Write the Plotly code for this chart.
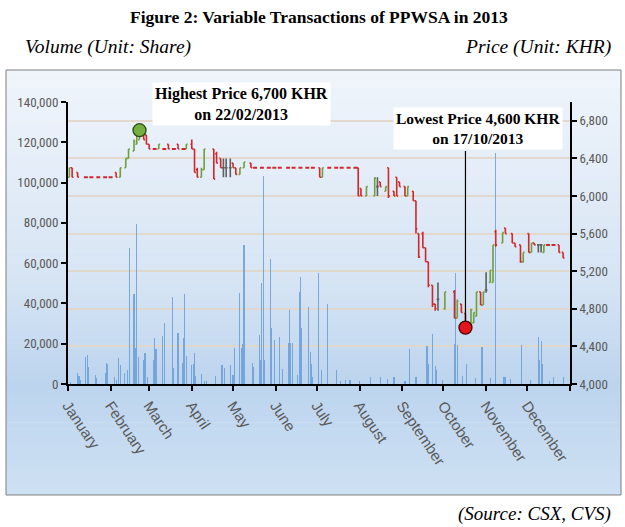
import plotly.graph_objects as go

# ---------------- data ----------------
price_dates = [
    "2013-01-02", "2013-01-04", "2013-01-08", "2013-01-14", "2013-01-18", "2013-01-23", "2013-01-28",
    "2013-02-01", "2013-02-05", "2013-02-08", "2013-02-12", "2013-02-14", "2013-02-18", "2013-02-20",
    "2013-02-22", "2013-02-25", "2013-02-27", "2013-03-01", "2013-03-05", "2013-03-08", "2013-03-12",
    "2013-03-15", "2013-03-19", "2013-03-22", "2013-03-26", "2013-03-28", "2013-04-01", "2013-04-03",
    "2013-04-05", "2013-04-08", "2013-04-10", "2013-04-17", "2013-04-19", "2013-04-22", "2013-04-24",
    "2013-04-26", "2013-04-29", "2013-05-01", "2013-05-03", "2013-05-06", "2013-05-09", "2013-05-14",
    "2013-05-17", "2013-05-22", "2013-05-27", "2013-05-31", "2013-06-04", "2013-06-10", "2013-06-14",
    "2013-06-19", "2013-06-24", "2013-06-28", "2013-07-03", "2013-07-05", "2013-07-10", "2013-07-15",
    "2013-07-19", "2013-07-24", "2013-07-29", "2013-07-31", "2013-08-02", "2013-08-06", "2013-08-12",
    "2013-08-14", "2013-08-16", "2013-08-20", "2013-08-22", "2013-08-26", "2013-08-28", "2013-08-30",
    "2013-09-03", "2013-09-05", "2013-09-09", "2013-09-11", "2013-09-13", "2013-09-16", "2013-09-18",
    "2013-09-20", "2013-09-23", "2013-09-25", "2013-09-27", "2013-10-02", "2013-10-09", "2013-10-11",
    "2013-10-14", "2013-10-17", "2013-10-21", "2013-10-23", "2013-10-25", "2013-10-28", "2013-10-30",
    "2013-11-01", "2013-11-04", "2013-11-06", "2013-11-08", "2013-11-13", "2013-11-15", "2013-11-20",
    "2013-11-22", "2013-11-26", "2013-11-28", "2013-12-02", "2013-12-04", "2013-12-06", "2013-12-09",
    "2013-12-11", "2013-12-13", "2013-12-16", "2013-12-20", "2013-12-24", "2013-12-27",
]
price_open = [
    6200, 6300, 6250, 6200, 6200, 6200, 6200,
    6200, 6250, 6200, 6300, 6400, 6480, 6550,
    6600, 6700, 6650, 6550, 6500, 6500, 6500,
    6550, 6500, 6550, 6500, 6500, 6550, 6500,
    6280, 6200, 6280, 6500, 6450, 6400, 6300,
    6300, 6300, 6350, 6300, 6230, 6300, 6350,
    6300, 6300, 6300, 6300, 6300, 6300, 6300,
    6300, 6300, 6300, 6300, 6200, 6300, 6300,
    6300, 6300, 6300, 6300, 6080, 6000, 6000,
    6100, 6150, 6050, 6300, 6050, 6200, 6150,
    6100, 6000, 6050, 5950, 5600, 5600, 5450,
    5300, 5050, 4850, 4900, 4800, 4980, 4700,
    4850, 4750, 4600, 4650, 4720, 4980, 4840,
    5000, 5080, 5080, 5620, 5500, 5660, 5600,
    5500, 5480, 5300, 5600, 5400, 5500, 5480,
    5480, 5400, 5480, 5480, 5480, 5400,
]
price_high = [
    6300, 6300, 6250, 6200, 6200, 6200, 6200,
    6200, 6250, 6300, 6400, 6500, 6600, 6650,
    6700, 6700, 6650, 6550, 6500, 6550, 6500,
    6550, 6500, 6550, 6500, 6550, 6600, 6500,
    6300, 6300, 6500, 6500, 6470, 6400, 6400,
    6400, 6400, 6350, 6300, 6300, 6360, 6350,
    6300, 6300, 6300, 6300, 6300, 6300, 6300,
    6300, 6300, 6300, 6300, 6300, 6300, 6300,
    6300, 6300, 6300, 6300, 6080, 6100, 6200,
    6200, 6150, 6100, 6300, 6050, 6200, 6150,
    6100, 6100, 6050, 5950, 5600, 5620, 5450,
    5300, 5050, 4850, 5080, 4980, 5000, 4900,
    4850, 4750, 4800, 4760, 4980, 4980, 4980,
    5190, 5210, 5480, 5640, 5610, 5660, 5600,
    5500, 5480, 5400, 5600, 5500, 5500, 5480,
    5480, 5480, 5480, 5480, 5480, 5400,
]
price_low = [
    6200, 6200, 6200, 6200, 6200, 6200, 6200,
    6200, 6200, 6200, 6300, 6400, 6480, 6550,
    6600, 6600, 6550, 6500, 6500, 6500, 6500,
    6500, 6500, 6500, 6500, 6500, 6500, 6250,
    6200, 6200, 6280, 6180, 6350, 6300, 6200,
    6200, 6200, 6300, 6230, 6230, 6300, 6300,
    6300, 6300, 6300, 6300, 6300, 6300, 6300,
    6300, 6300, 6300, 6200, 6200, 6300, 6300,
    6300, 6300, 6300, 6000, 6000, 6000, 6000,
    6000, 6100, 6050, 5980, 6000, 6000, 6100,
    6000, 6000, 5950, 5600, 5340, 5450, 5300,
    5030, 4820, 4780, 4780, 4790, 4700, 4700,
    4760, 4600, 4580, 4650, 4720, 4840, 4840,
    4970, 5080, 5080, 5460, 5500, 5600, 5500,
    5460, 5290, 5290, 5400, 5400, 5480, 5400,
    5400, 5400, 5480, 5480, 5400, 5340,
]
price_close = [
    6300, 6200, 6200, 6200, 6200, 6200, 6200,
    6200, 6200, 6300, 6400, 6500, 6580, 6650,
    6700, 6600, 6550, 6500, 6500, 6550, 6500,
    6500, 6500, 6500, 6500, 6550, 6500, 6250,
    6200, 6280, 6500, 6180, 6350, 6300, 6300,
    6300, 6300, 6300, 6230, 6300, 6360, 6300,
    6300, 6300, 6300, 6300, 6300, 6300, 6300,
    6300, 6300, 6300, 6200, 6300, 6300, 6300,
    6300, 6300, 6300, 6000, 6000, 6100, 6190,
    6100, 6100, 6100, 6000, 6000, 6000, 6100,
    6000, 6100, 5950, 5650, 5350, 5450, 5300,
    5050, 4850, 4800, 4900, 4980, 4700, 4880,
    4760, 4600, 4790, 4760, 4980, 4840, 4980,
    5000, 5210, 5480, 5480, 5610, 5600, 5500,
    5460, 5300, 5400, 5400, 5500, 5480, 5480,
    5480, 5480, 5480, 5480, 5400, 5340,
]

vol_dates = [
    "2013-01-03", "2013-01-08", "2013-01-09", "2013-01-10", "2013-01-14", "2013-01-15", "2013-01-16",
    "2013-01-21", "2013-01-22", "2013-01-28", "2013-01-29", "2013-01-30", "2013-02-04", "2013-02-05",
    "2013-02-07", "2013-02-08", "2013-02-11", "2013-02-13", "2013-02-15", "2013-02-18", "2013-02-19",
    "2013-02-20", "2013-02-21", "2013-02-25", "2013-02-26", "2013-02-28", "2013-03-04", "2013-03-05",
    "2013-03-06", "2013-03-11", "2013-03-12", "2013-03-18", "2013-03-19", "2013-03-22", "2013-03-25",
    "2013-03-26", "2013-03-27", "2013-03-28", "2013-04-01", "2013-04-02", "2013-04-03", "2013-04-04",
    "2013-04-08", "2013-04-10", "2013-04-12", "2013-04-18", "2013-04-23", "2013-04-25", "2013-04-29",
    "2013-05-01", "2013-05-02", "2013-05-06", "2013-05-07", "2013-05-08", "2013-05-09", "2013-05-15",
    "2013-05-16", "2013-05-20", "2013-05-21", "2013-05-22", "2013-05-23", "2013-05-24", "2013-05-28",
    "2013-05-29", "2013-05-31", "2013-06-04", "2013-06-06", "2013-06-10", "2013-06-11", "2013-06-12",
    "2013-06-13", "2013-06-17", "2013-06-18", "2013-06-19", "2013-06-20", "2013-06-25", "2013-06-26",
    "2013-06-27", "2013-06-28", "2013-07-02", "2013-07-04", "2013-07-09", "2013-07-15", "2013-07-18",
    "2013-07-22", "2013-07-25", "2013-08-01", "2013-08-09", "2013-08-16", "2013-08-21", "2013-08-26",
    "2013-09-03", "2013-09-06", "2013-09-11", "2013-09-19", "2013-09-20", "2013-09-23", "2013-09-25",
    "2013-09-26", "2013-09-30", "2013-10-09", "2013-10-10", "2013-10-11", "2013-10-15", "2013-10-18",
    "2013-10-24", "2013-10-29", "2013-11-04", "2013-11-08", "2013-11-14", "2013-11-15", "2013-11-19",
    "2013-11-27", "2013-12-03", "2013-12-09", "2013-12-10", "2013-12-11", "2013-12-12", "2013-12-17",
    "2013-12-20", "2013-12-27",
]
vol_values = [
    1000, 5400, 4000, 2000, 13400, 14500, 8500,
    4500, 3000, 5400, 10500, 10000, 3500, 2000,
    12800, 9600, 5400, 7000, 67500, 44600, 18000,
    79400, 13400, 12000, 15400, 3500, 12000, 22800,
    17300, 23800, 30300, 43300, 8000, 25500, 10500,
    22800, 44600, 14000, 9500, 10000, 15400, 4000,
    5000, 1700, 1500, 4000, 9600, 8000, 9600,
    4500, 18000, 45300, 18000, 20000, 69000, 10500,
    8500, 24300, 12000, 50000, 103300, 12000, 62000,
    27800, 21800, 23300, 7500, 20300, 36800, 20500,
    20500, 4500, 45700, 53100, 27800, 38300, 15700,
    10000, 3500, 55100, 7000, 39700, 7000, 1500,
    2000, 2000, 1500, 3400, 3400, 2500, 3400,
    1500, 17300, 3400, 19000, 10000, 24800, 9000,
    7000, 2000, 19800, 55100, 19500, 4000, 10000,
    3000, 18500, 3000, 114700, 3400, 3400, 2500,
    19500, 2000, 23300, 12000, 21400, 10000, 1500,
    3400, 3500,
]

month_ticks = [
    "2013-01-01", "2013-02-01", "2013-03-01", "2013-04-01", "2013-05-01", "2013-06-01",
    "2013-07-01", "2013-08-01", "2013-09-01", "2013-10-01", "2013-11-01", "2013-12-01", "2014-01-01",
]
month_labels = [
    "January", "February", "March", "April", "May", "June", "July",
    "August", "September", "October", "November", "December", "",
]
volume_ticks = [0, 20000, 40000, 60000, 80000, 100000, 120000, 140000]
price_ticks = [4000, 4400, 4800, 5200, 5600, 6000, 6400, 6800]

extreme_dates = ["2013-02-22", "2013-10-17"]
extreme_prices = [6700, 4600]

# ---------------- styles ----------------
RED = "#d0282a"
GREEN = "#6f9f3c"
GREY = "#5f5f5f"
BAR = "rgba(98,152,214,0.8)"
NARROW = "Liberation Sans Narrow, Roboto Condensed, Arial Narrow, Liberation Sans"
TICKFONT = dict(family=NARROW, size=13, color="#595959")
MONTHFONT = dict(family="Liberation Sans, Arial, sans-serif", size=15, color="#595959")
SERIF = "Liberation Serif, Times New Roman, serif"

W, H = 625, 527
L, R, T, B = 68, 55, 102, 143
PW, PH = W - L - R, H - T - B


def px_x(px):
    return (px - L) / PW


def px_y(py):
    return (H - B - py) / PH


rows = list(zip(price_dates, price_open, price_high, price_low, price_close))
flat = [r for r in rows if r[1] == r[2] == r[3] == r[4]]
neutral = [r for r in rows if r[1] == r[4] and r[2] != r[3]]
moving = [r for r in rows if r[1] != r[4]]


def cols(rs):
    return [list(c) for c in zip(*rs)]


fig = go.Figure()

fig.add_trace(go.Bar(x=vol_dates, y=vol_values, width=0.8 * 86400000,
                     marker=dict(color=BAR, line=dict(width=0)), yaxis="y", xaxis="x",
                     showlegend=False))

d, o, h, l, c = cols(moving)
fig.add_trace(go.Ohlc(x=d, open=o, high=h, low=l, close=c, xaxis="x", yaxis="y2",
                      tickwidth=0.5,
                      increasing=dict(line=dict(color=GREEN, width=1.6)),
                      decreasing=dict(line=dict(color=RED, width=1.6)), showlegend=False))
d, o, h, l, c = cols(neutral)
fig.add_trace(go.Ohlc(x=d, open=o, high=h, low=l, close=c, xaxis="x", yaxis="y2",
                      tickwidth=0.5,
                      increasing=dict(line=dict(color=GREY, width=1.6)),
                      decreasing=dict(line=dict(color=GREY, width=1.6)), showlegend=False))
d, o, h, l, c = cols(flat)
fig.add_trace(go.Ohlc(x=d, open=o, high=h, low=l, close=c, xaxis="x2", yaxis="y2",
                      tickwidth=0.36,
                      increasing=dict(line=dict(color=RED, width=2)),
                      decreasing=dict(line=dict(color=RED, width=2)), showlegend=False))

fig.add_trace(go.Scatter(x=extreme_dates, y=extreme_prices, mode="markers", xaxis="x", yaxis="y2",
                         marker=dict(size=13, color=["#74b040", "#e3161b"],
                                     line=dict(width=1.3, color=["#2c4a18", "#4a0000"])),
                         showlegend=False, cliponaxis=False))

# ---------------- background (gradient box) ----------------
def lerp(c1, c2, t):
    return tuple(round(a + (b - a) * t) for a, b in zip(c1, c2))


stops = [(0.0, (240, 245, 251)), (0.5, (214, 228, 244)), (0.74, (188, 212, 238)), (1.0, (206, 225, 243))]
box_x0, box_x1 = px_x(6), px_x(621)
box_top, box_bot = 70, 495
N = 70
shapes = []
for i in range(N):
    t = (i + 0.5) / N
    for k in range(len(stops) - 1):
        if stops[k][0] <= t <= stops[k + 1][0]:
            tt = (t - stops[k][0]) / (stops[k + 1][0] - stops[k][0])
            col = lerp(stops[k][1], stops[k + 1][1], tt)
            break
    ya = box_top + (box_bot - box_top) * i / N
    yb = box_top + (box_bot - box_top) * (i + 1) / N + 0.6
    shapes.append(dict(type="rect", xref="paper", yref="paper", x0=box_x0, x1=box_x1,
                       y0=px_y(min(yb, box_bot)), y1=px_y(ya), line=dict(width=0),
                       fillcolor="rgb(%d,%d,%d)" % col, layer="below"))
shapes.append(dict(type="rect", xref="paper", yref="paper", x0=box_x0, x1=box_x1,
                   y0=px_y(box_bot), y1=px_y(box_top), line=dict(width=1, color="#7f7f7f"),
                   fillcolor="rgba(0,0,0,0)", layer="below"))

annotations = [
    dict(text="<b>Figure 2: Variable Transactions of PPWSA in 2013</b>", xref="paper", yref="paper",
         x=0.5, y=px_y(17), xanchor="center", yanchor="middle", showarrow=False,
         font=dict(family=SERIF, size=17.5, color="black")),
    dict(text="<i>Volume (Unit: Share)</i>", xref="paper", yref="paper", x=px_x(23), y=px_y(47),
         xanchor="left", yanchor="middle", showarrow=False, font=dict(family=SERIF, size=19.5, color="black")),
    dict(text="<i>Price (Unit: KHR)</i>", xref="paper", yref="paper", x=px_x(613), y=px_y(47),
         xanchor="right", yanchor="middle", showarrow=False, font=dict(family=SERIF, size=19.5, color="black")),
    dict(text="<i>(Source: CSX, CVS)</i>", xref="paper", yref="paper", x=px_x(613), y=px_y(514),
         xanchor="right", yanchor="middle", showarrow=False, font=dict(family=SERIF, size=19, color="black")),
    dict(text="<b>Highest Price 6,700 KHR<br>on 22/02/2013</b>", xref="paper", yref="paper",
         x=px_x(241), y=px_y(104), xanchor="center", yanchor="middle", showarrow=False,
         bgcolor="white", borderpad=2, font=dict(family=SERIF, size=16, color="black")),
    dict(text="<b>Lowest Price 4,600 KHR<br>on 17/10/2013</b>", xref="paper", yref="paper",
         x=px_x(478), y=px_y(128), xanchor="center", yanchor="middle", showarrow=False,
         bgcolor="white", borderpad=2, font=dict(family=SERIF, size=15.5, color="black")),
    dict(text="", x=extreme_dates[1], y=extreme_prices[1], xref="x", yref="y2", showarrow=True,
         arrowhead=0, arrowwidth=1.2, arrowcolor="black", ax=0, ay=-178, standoff=6),
]

axis_common = dict(showline=True, linecolor="black", linewidth=2, ticks="outside", ticklen=5,
                   tickwidth=2, tickcolor="black", tickfont=TICKFONT, zeroline=False, automargin=False)

fig.update_layout(
    width=W, height=H, autosize=False,
    margin=dict(l=L, r=R, t=T, b=B, pad=0),
    paper_bgcolor="white", plot_bgcolor="rgba(0,0,0,0)",
    showlegend=False, bargap=0,
    xaxis=dict(type="date", range=["2013-01-01", "2014-01-01"], tickvals=month_ticks,
               ticktext=month_labels, tickangle=56, showgrid=False, rangeslider=dict(visible=False),
               **{**axis_common, "tickfont": MONTHFONT}),
    xaxis2=dict(type="date", range=["2013-01-01", "2014-01-01"], overlaying="x", visible=False,
                rangeslider=dict(visible=False)),
    yaxis=dict(range=[0, 140000], tickvals=volume_ticks, tickformat=",", showgrid=False, **axis_common),
    yaxis2=dict(range=[4000, 7000], tickvals=price_ticks, tickformat=",", overlaying="y", side="right",
                showgrid=True, gridcolor="rgba(226,214,200,0.9)", gridwidth=1.5, **axis_common),
    shapes=shapes,
    annotations=annotations,
)

fig.write_html("out.html", config={"displayModeBar": False},
               post_script="document.body.style.margin='0px';")
